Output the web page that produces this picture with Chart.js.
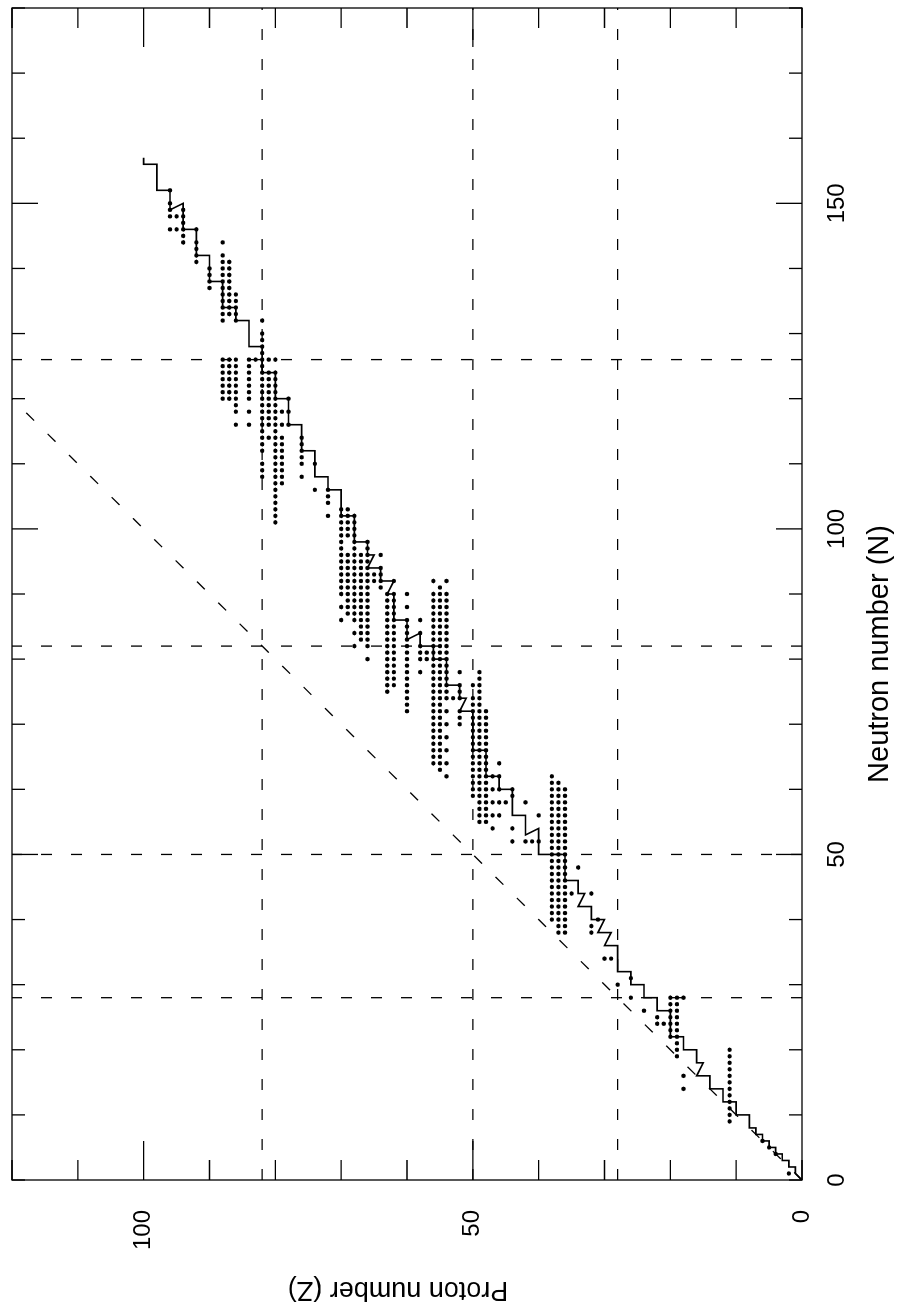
<!DOCTYPE html>
<html>
<head>
<meta charset="utf-8">
<script src="https://cdn.jsdelivr.net/npm/chart.js@4.4.1/dist/chart.umd.min.js"></script>
<style>
  html, body { margin: 0; padding: 0; background: #fff; }
  body { width: 899px; height: 1309px; overflow: hidden; position: relative; }
  /* the plot is laid out landscape (N across, Z up) and turned a quarter turn */
  #wrap {
    position: absolute; left: 0; top: 0;
    width: 1309px; height: 899px;
    transform-origin: 0 0;
    transform: translateY(1309px) rotate(-90deg);
  }
</style>
</head>
<body>
<div id="wrap"><canvas id="nuclideChart" width="1309" height="899"></canvas></div>
<script>
const NEUTRON_MAX = 180;
const PROTON_MAX = 120;

// N ticks every 10, labelled every 50; Z ticks every 10, labelled every 50
const nTicks = [0, 10, 20, 30, 40, 50, 60, 70, 80, 90, 100, 110, 120, 130, 140, 150, 160, 170, 180];
const nLabels = [0, 50, 100, 150];
const zTicks = [0, 10, 20, 30, 40, 50, 60, 70, 80, 90, 100, 110, 120];
const zLabels = [0, 50, 100];

const magicNumbers = [28, 50, 82, 126];

// line through the most stable isobar, corners only (Z, N)
const lineZ = [100, 100, 98, 98, 96, 96, 94, 94, 92, 92, 90, 90, 88, 88, 86, 86, 84, 84, 82, 82,
  80, 80, 78, 78, 76, 76, 74, 74, 72, 72, 70, 70, 68, 68, 66, 66, 65, 66, 64, 64,
  62, 63, 62, 62, 60, 60, 58, 58, 56, 56, 54, 54, 52, 52, 51, 52, 50, 50, 48, 48,
  46, 46, 44, 44, 42, 42, 40, 40, 36, 36, 34, 34, 33, 34, 32, 32, 30, 31, 29, 30,
  28, 28, 26, 26, 24, 24, 22, 22, 20, 20, 18, 18, 16, 16, 15, 16, 14, 14, 12, 12,
  10, 10, 8, 8, 7, 7, 6, 6, 5, 5, 4, 4, 3, 3, 2, 2, 1, 1, 0];
const lineN = [157, 156, 156, 152, 152, 149, 150, 146, 146, 142, 142, 138, 138, 134, 134, 132, 132, 128, 128, 124,
  124, 120, 120, 116, 116, 112, 112, 108, 108, 106, 106, 102, 102, 98, 98, 96, 96, 94, 94, 92,
  92, 90, 90, 86, 86, 83, 84, 82, 82, 80, 80, 76, 76, 74, 74, 72, 72, 66, 66, 62,
  62, 60, 60, 56, 56, 53, 54, 50, 50, 46, 46, 44, 44, 42, 42, 40, 40, 38, 38, 36,
  36, 32, 32, 30, 30, 28, 28, 26, 26, 22, 22, 20, 20, 18, 18, 16, 16, 14, 14, 12,
  12, 10, 10, 8, 8, 7, 7, 6, 6, 5, 5, 4, 4, 3, 3, 2, 2, 1, 0];

// marked nuclides: proton number and the neutron numbers present for it
const dotZ = [96, 95, 94, 92, 90, 88, 87, 86, 84, 83,
  82, 81, 80, 79, 78, 76, 74, 72, 70, 69,
  68, 67, 66, 65, 64, 63, 62, 60, 58, 57,
  56, 55, 54, 53, 52, 50, 49, 48, 47, 46,
  45, 44, 42, 41, 40, 38, 37, 36, 35, 34,
  32, 31, 30, 29, 28, 26, 24, 22, 21, 20,
  19, 18, 11, 6, 5, 4, 2];
const dotN = ['152,150-148,146', '148,146', '149-144', '146,144-141', '140-137',
  '144,142-132,126-120', '141-133,126-120', '136-132,126-118,116', '126-120,118,116', '126',
  '132,130-112,110-108', '126,124-116,114', '126,124-101', '118,116,114-107', '120,118,116',
  '114-110,108', '110,106', '106-104,102', '103-90,88,86', '103-99,96-87',
  '102-86,84,82', '96-83', '98-82,80', '93,92', '96,94-91',
  '90-75', '92,90-76', '90,88,86-72', '86,84,82-80,78', '81,80',
  '92,90-64', '91-63', '92,90-74,72,70,68,66,64,62', '74', '78,76-74,72-70',
  '76,74-59', '78-55', '72-55', '62,60,58,56,54', '64,62,60,58,56',
  '58', '60,59,54,52', '58,52', '52', '56,52',
  '62-40', '61-38', '60-38', '44', '48',
  '44,39,38', '40', '34', '34', '30',
  '31,28', '26', '25,24', '24', '28-22',
  '28-19', '28,16,14', '20-9', '6', '5',
  '4', '1'];

function expandRuns(spec) {
  return spec.split(',').flatMap(part => {
    const [a, b] = part.split('-').map(Number);
    if (b === undefined) return [a];
    const out = [];
    for (let n = Math.min(a, b); n <= Math.max(a, b); n++) out.push(n);
    return out;
  });
}

const dotPoints = dotZ.flatMap((z, i) => expandRuns(dotN[i]).map(n => ({ x: n, y: z })));
const linePoints = lineZ.map((z, i) => ({ x: lineN[i], y: z }));

const dashStyle = {
  showLine: true, pointRadius: 0, borderColor: '#000', borderWidth: 1.3,
  borderDash: [11, 19], fill: false
};
const magicSets = [
  ...magicNumbers.filter(m => m <= PROTON_MAX).map(m => ({ ...dashStyle, data: [{ x: 0, y: m }, { x: NEUTRON_MAX, y: m }] })),
  ...magicNumbers.map(m => ({ ...dashStyle, data: [{ x: m, y: 0 }, { x: m, y: PROTON_MAX }] })),
  { ...dashStyle, data: [{ x: 0, y: 0 }, { x: PROTON_MAX, y: PROTON_MAX }] }
];

const FONT = '"Liberation Sans", Arial, Helvetica, sans-serif';

// box, inward ticks on all four sides, tick labels and axis titles
const frameAxes = {
  id: 'frameAxes',
  afterDatasetsDraw(chart) {
    const { ctx, chartArea: a, scales: { x, y } } = chart;
    ctx.save();
    ctx.strokeStyle = '#000';
    ctx.lineWidth = 1.3;
    ctx.strokeRect(a.left, a.top, a.right - a.left, a.bottom - a.top);
    ctx.beginPath();
    nTicks.forEach(n => {
      const px = x.getPixelForValue(n);
      const len = nLabels.includes(n) && n > 0 ? 26 : 13;
      ctx.moveTo(px, a.bottom); ctx.lineTo(px, a.bottom - len);
      ctx.moveTo(px, a.top); ctx.lineTo(px, a.top + len);
    });
    zTicks.forEach(z => {
      const py = y.getPixelForValue(z);
      const len = zLabels.includes(z) && z > 0 ? 39 : 20;
      ctx.moveTo(a.left, py); ctx.lineTo(a.left + len, py);
      ctx.moveTo(a.right, py); ctx.lineTo(a.right - len, py);
    });
    ctx.stroke();

    ctx.fillStyle = '#000';
    ctx.font = '24px ' + FONT;
    ctx.textAlign = 'center';
    ctx.textBaseline = 'middle';
    nLabels.forEach(n => ctx.fillText(String(n), x.getPixelForValue(n), a.bottom + 35));
    ctx.textAlign = 'right';
    zLabels.forEach(z => ctx.fillText(String(z), a.left - 30, y.getPixelForValue(z)));

    ctx.textAlign = 'center';
    ctx.font = '29px ' + FONT;
    ctx.fillText('Neutron number (N)', 655, a.bottom + 78);
    ctx.font = '27px ' + FONT;
    ctx.translate(20, 398);
    ctx.rotate(-Math.PI / 2);
    ctx.fillText('Proton number (Z)', 0, 0);
    ctx.restore();
  }
};

new Chart(document.getElementById('nuclideChart'), {
  type: 'scatter',
  data: {
    datasets: [
      {
        data: dotPoints, pointRadius: 2.2, pointHoverRadius: 2.2,
        pointBackgroundColor: '#000', pointBorderWidth: 0, showLine: false
      },
      {
        data: linePoints, showLine: true, pointRadius: 0,
        borderColor: '#000', borderWidth: 1.6, tension: 0, fill: false
      },
      ...magicSets
    ]
  },
  options: {
    responsive: false,
    animation: false,
    layout: { padding: { left: 129, right: 8, top: 12, bottom: 97 } },
    plugins: { legend: { display: false }, tooltip: { enabled: false } },
    scales: {
      x: { type: 'linear', min: 0, max: NEUTRON_MAX, display: false },
      y: { type: 'linear', min: 0, max: PROTON_MAX, display: false }
    }
  },
  plugins: [frameAxes]
});
</script>
</body>
</html>
